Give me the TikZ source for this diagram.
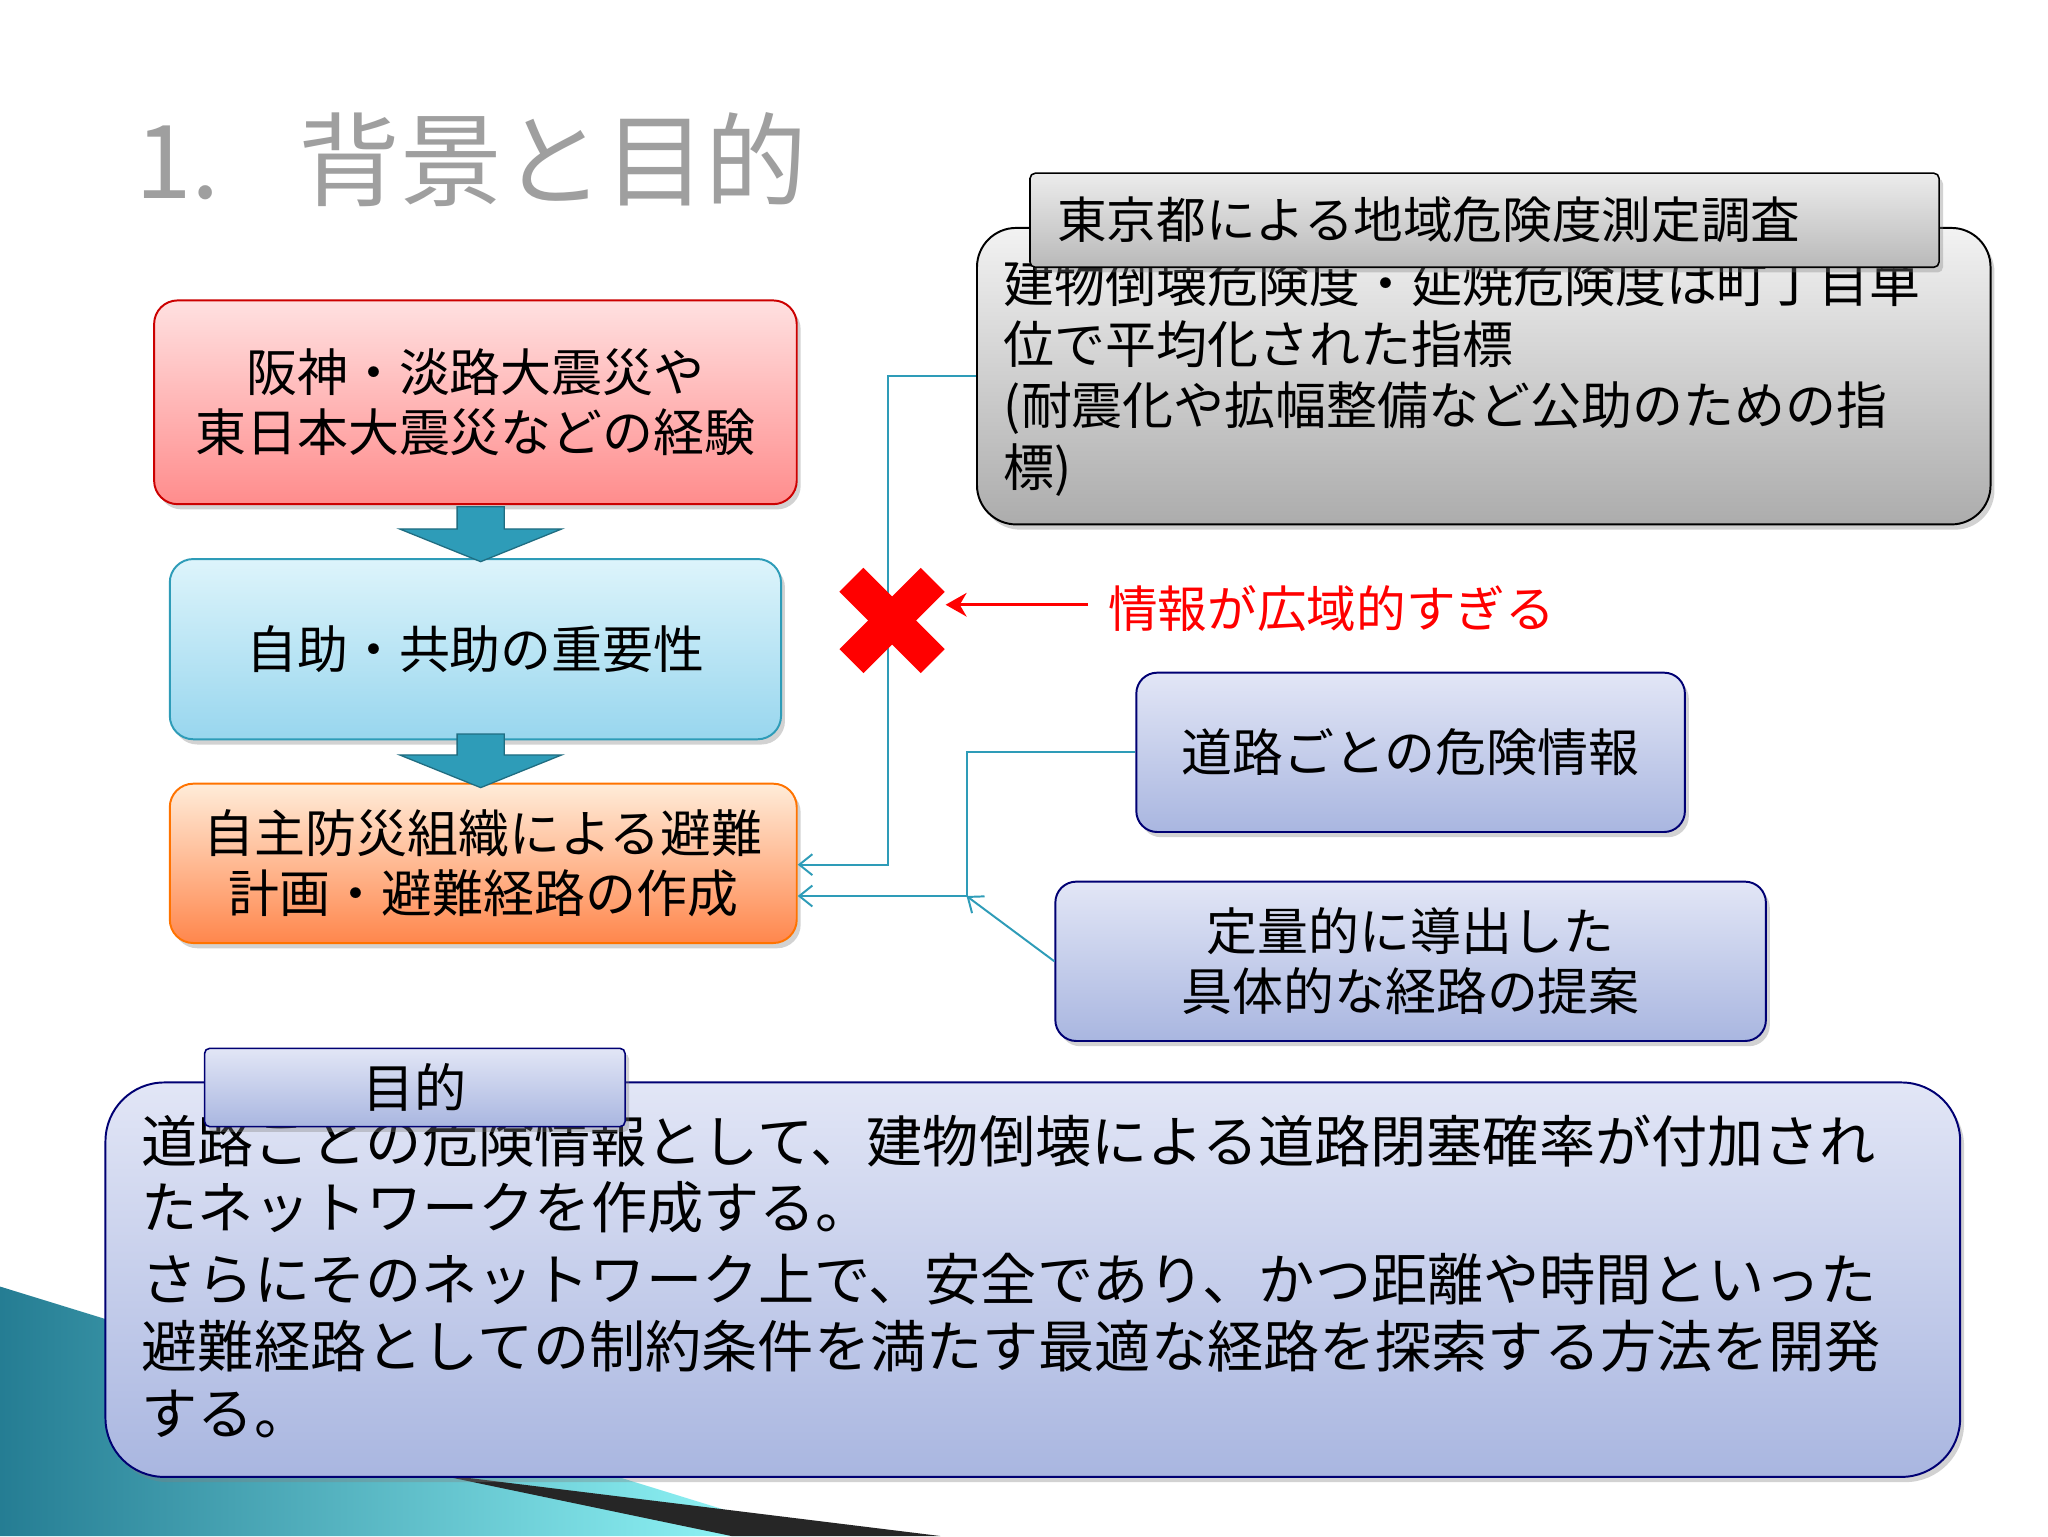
\documentclass[tikz,border=0pt]{standalone}
\usepackage{fontspec}
\setmainfont{Noto Sans CJK JP}
\usetikzlibrary{arrows.meta,shadows}
\definecolor{teal1}{HTML}{2E9CB8}
\definecolor{lav1}{HTML}{E2E6F6}
\definecolor{lav2}{HTML}{A9B6E0}
\definecolor{cy1}{HTML}{DDF4FB}
\definecolor{cy2}{HTML}{98D6EE}
\tikzset{
 x=1pt,y=-1pt,
 box/.style={draw, rounded corners=18pt, line width=1.5pt, drop shadow={opacity=0.35,shadow xshift=3pt,shadow yshift=-4pt}},
 redbox/.style={box, draw=red!80!black, top color=red!12, bottom color=red!45},
 cyanbox/.style={box, draw=teal1, top color=cy1, bottom color=cy2},
 orbox/.style={box, draw=orange!90!red, top color=orange!15, bottom color=orange!65!red!70},
 graybox/.style={box, draw=black, rounded corners=30pt, top color=gray!10, bottom color=gray!65},
 bluebox/.style={box, draw=blue!45!black, top color=lav1, bottom color=lav2},
 hdr/.style={draw, line width=1.2pt, rounded corners=4pt, drop shadow={opacity=0.35,shadow xshift=3pt,shadow yshift=-4pt}},
 conn/.style={draw=teal1, line width=1.5pt},
 downarr/.style={fill=teal1, draw=teal1!70!black, line width=1pt},
 txt/.style={font=\fontsize{39pt}{46pt}\selectfont, align=center}
}
\begin{document}
\begin{tikzpicture}
\useasboundingbox (0,0) rectangle (1568,1176);
\fill[white] (0,0) rectangle (1568,1176);
% background wedge
\shade[left color=teal1!80!black, right color=cyan!40] (0,985) -- (620,1176) -- (0,1176) -- cycle;
\fill[black!85] (330,1128) -- (720,1176) -- (560,1176) -- cycle;
% title
\node[anchor=west, text=gray!75, font=\fontsize{78pt}{80pt}\selectfont] (title) at (100,122) {1.\hspace{60pt}背景と目的};
% left chain
\node[redbox, minimum width=492, minimum height=156, txt] (r) at (364,308) {阪神・淡路大震災や\\東日本大震災などの経験};
\node[cyanbox, minimum width=468, minimum height=138, txt] (c) at (364,497) {自助・共助の重要性};
\node[orbox, minimum width=480, minimum height=122, txt] (o) at (370,661) {自主防災組織による避難\\計画・避難経路の作成};
\path[downarr] (350,388) -- (386,388) -- (386,405) -- (430,405) -- (368,430) -- (306,405) -- (350,405) -- cycle;
\path[downarr] (350,562) -- (386,562) -- (386,578) -- (430,578) -- (368,603) -- (306,578) -- (350,578) -- cycle;
% gray box
\node[graybox, minimum width=776, minimum height=227] (g) at (1136,288) {};
\node[anchor=north west, align=left, font=\fontsize{39pt}{47pt}\selectfont] (gt) at (765,195) {建物倒壊危険度・延焼危険度は町丁目単\\位で平均化された指標\\(耐震化や拡幅整備など公助のための指\\標)};
\node[hdr, top color=gray!15, bottom color=gray!55, minimum width=696, minimum height=72, anchor=north west, inner sep=0] (gh) at (788,132) {};
\node[anchor=west, font=\fontsize{38pt}{40pt}\selectfont] (ght) at (806,168) {東京都による地域危険度測定調査};
% connector 1
\coordinate (k1) at (680,288);
\draw[conn,-{Straight Barb[length=10pt,width=16pt]}] (g.west |- k1) -- (k1) -- (680,662) -- (o.east |- 0,662);
% red X
\coordinate (x) at (683,475);
\fill[red, rotate around={45:(x)}] (639,462) rectangle (727,488);
\fill[red, rotate around={-45:(x)}] (639,462) rectangle (727,488);
\node[anchor=west, text=red, font=\fontsize{38pt}{40pt}\selectfont] (rt) at (845,466) {情報が広域的すぎる};
\draw[red, line width=2.5pt, -{Stealth[length=16pt,width=18pt]}] (rt.west) ++(-12,-3) coordinate (rs) -- (724,463);
% blue boxes
\node[bluebox, rounded corners=16pt, minimum width=420, minimum height=122, txt] (b1) at (1080,576) {道路ごとの危険情報};
\node[bluebox, rounded corners=16pt, minimum width=544, minimum height=122, txt] (b2) at (1080,736) {定量的に導出した\\具体的な経路の提案};
\coordinate (k2) at (740,686);
\draw[conn,-{Straight Barb[length=10pt,width=16pt]}] (b1.west) -- (740,576) -- (k2) -- (o.east |- k2);
\draw[conn,-{Straight Barb[length=10pt,width=16pt]}] (b2.west) -- (k2);
% bottom box
\node[bluebox, rounded corners=45pt, minimum width=1420, minimum height=302, anchor=north west] (bb) at (80,828) {};
\node[anchor=north west, align=left, font=\fontsize{43pt}{51pt}\selectfont] (bt) at (105,850) {道路ごとの危険情報として、建物倒壊による道路閉塞確率が付加され\\たネットワークを作成する。\\[4pt]さらにそのネットワーク上で、安全であり、かつ距離や時間といった\\避難経路としての制約条件を満たす最適な経路を探索する方法を開発\\する。};
\node[hdr, draw=blue!45!black, top color=lav1, bottom color=lav2, minimum width=322, minimum height=60, anchor=north west, inner sep=0, font=\fontsize{40pt}{42pt}\selectfont] (bh) at (156,802) {目的};
\end{tikzpicture}
\end{document}
